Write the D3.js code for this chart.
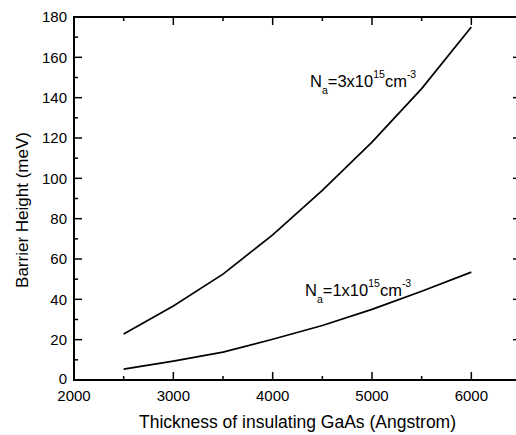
<!DOCTYPE html>
<html>
<head>
<meta charset="utf-8">
<script src="https://cdn.jsdelivr.net/npm/d3@7"></script>
<style>
  body { margin: 0; background: #fff; }
  svg { display: block; font-family: Arial, "Liberation Sans", sans-serif; }
</style>
</head>
<body>
<svg id="chart"></svg>
<script>
const thickness = [2500, 3000, 3500, 4000, 4500, 5000, 5500, 6000];
const barrierHigh = [22.8, 36.7, 52.5, 72, 94, 118, 144.5, 175];
const barrierLow = [5.4, 9.4, 13.8, 20.2, 27, 35, 44, 53.5];
const xTicks = [2000, 3000, 4000, 5000, 6000];
const yTicks = [0, 20, 40, 60, 80, 100, 120, 140, 160, 180];

const width = 516;
const height = 435;
const plotL = 74, plotR = 521, plotT = 17, plotB = 380;

const svg = d3.select("#chart")
  .attr("width", width)
  .attr("height", height);

const x = d3.scaleLinear().domain([2000, 6500]).range([plotL, plotR]);
const y = d3.scaleLinear().domain([0, 180]).range([plotB, plotT]);

const xMinor = d3.range(2500, 6500, 1000);
const yMinor = d3.range(10, 180, 20);

// frame
svg.append("rect")
  .attr("x", plotL).attr("y", plotT)
  .attr("width", plotR - plotL).attr("height", plotB - plotT)
  .attr("fill", "none").attr("stroke", "#000").attr("stroke-width", 2);

// ticks (inward, on all four sides)
const tickG = svg.append("g").attr("stroke", "#000").attr("stroke-width", 1.5);
xTicks.concat(xMinor).forEach(v => {
  const len = xTicks.includes(v) ? 8 : 4;
  tickG.append("line").attr("x1", x(v)).attr("x2", x(v)).attr("y1", plotB).attr("y2", plotB - len);
  tickG.append("line").attr("x1", x(v)).attr("x2", x(v)).attr("y1", plotT).attr("y2", plotT + len);
});
yTicks.concat(yMinor).forEach(v => {
  const len = yTicks.includes(v) ? 8 : 4;
  tickG.append("line").attr("x1", plotL).attr("x2", plotL + len).attr("y1", y(v)).attr("y2", y(v));
  tickG.append("line").attr("x1", plotR).attr("x2", plotR - len).attr("y1", y(v)).attr("y2", y(v));
});

// tick labels
svg.selectAll(".xlab")
  .data(xTicks)
  .enter()
  .append("text")
  .attr("x", d => x(d))
  .attr("y", plotB + 21)
  .attr("text-anchor", "middle")
  .attr("font-size", "15px")
  .text(d => d);

svg.selectAll(".ylab")
  .data(yTicks)
  .enter()
  .append("text")
  .attr("x", plotL - 7)
  .attr("y", d => y(d))
  .attr("dy", d => d === 0 ? "0.25em" : "0.35em")
  .attr("text-anchor", "end")
  .attr("font-size", "15px")
  .text(d => d);

// axis titles
svg.append("text")
  .attr("x", (plotL + plotR) / 2)
  .attr("y", 428)
  .attr("text-anchor", "middle")
  .attr("font-size", "17.5px")
  .text("Thickness of insulating GaAs (Angstrom)");

svg.append("text")
  .attr("transform", "translate(28,210) rotate(-90)")
  .attr("text-anchor", "middle")
  .attr("font-size", "17px")
  .text("Barrier Height (meV)");

// curves
const line = d3.line()
  .x((d, i) => x(thickness[i]))
  .y(d => y(d));

[barrierHigh, barrierLow].forEach(series => {
  svg.append("path")
    .datum(series)
    .attr("d", line)
    .attr("fill", "none")
    .attr("stroke", "#000")
    .attr("stroke-width", 1.7);
});

// curve labels
function curveLabel(px, py, coef) {
  const t = svg.append("text").attr("x", px).attr("y", py).attr("font-size", "16.5px");
  t.append("tspan").text("N");
  t.append("tspan").attr("font-size", "10.5px").attr("dy", 7).text("a");
  t.append("tspan").attr("dy", -7).text("=" + coef + "x10");
  t.append("tspan").attr("font-size", "10.5px").attr("dy", -9).text("15");
  t.append("tspan").attr("dy", 9).text("cm");
  t.append("tspan").attr("font-size", "10.5px").attr("dy", -9).text("-3");
}
curveLabel(310, 87, 3);
curveLabel(305, 296, 1);
</script>
</body>
</html>
